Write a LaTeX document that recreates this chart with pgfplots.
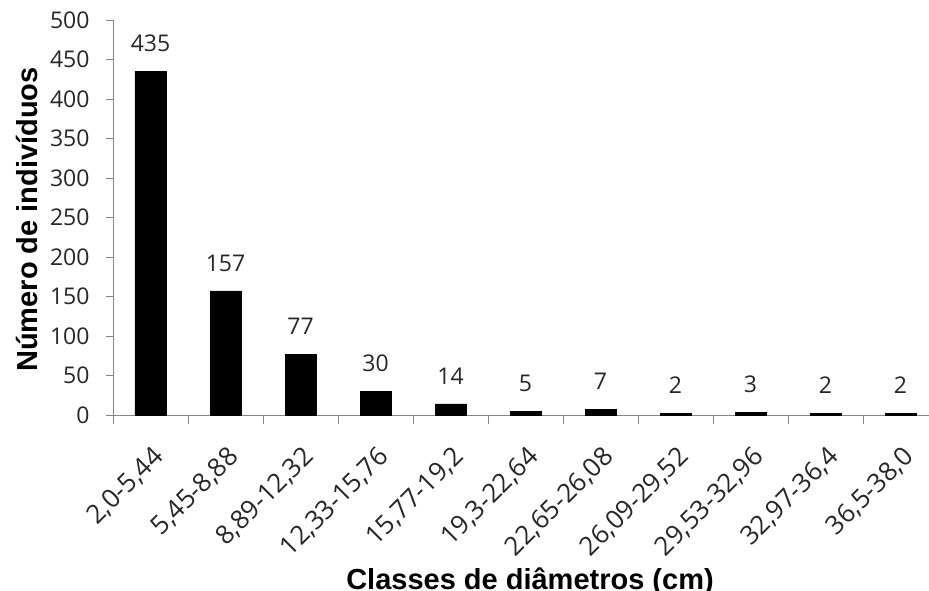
\documentclass[border=0pt]{standalone}
\usepackage{fontspec}
\usepackage{pgfplots}
\pgfplotsset{compat=1.18}
\setmainfont{Open Sans}
\newfontfamily\labelfont{Liberation Sans}
\definecolor{axgray}{RGB}{134,134,134}

\begin{document}
\begin{tikzpicture}
\path[use as bounding box] (-113pt,-175pt) rectangle (816pt,415pt);
\begin{axis}[
  name=ax,
  at={(0,0)}, anchor=south west,
  scale only axis,
  width=816pt, height=395pt,
  ybar, bar width=31pt, bar shift=0pt,
  xmin=-0.5, xmax=10.38,
  ymin=0, ymax=500,
  ytick={0,50,...,500},
  xtick={0,...,10},
  xticklabels={{2,0-5,44},{5,45-8,88},{8,89-12,32},{12,33-15,76},{15,77-19,2},{19,3-22,64},{22,65-26,08},{26,09-29,52},{29,53-32,96},{32,97-36,4},{36,5-38,0}},
  minor xtick={-0.5,0.5,...,9.5},
  axis x line=bottom, axis y line=left,
  axis line style={-, draw=axgray, line width=0.9pt},
  tick align=outside,
  major tick length=7pt, minor tick length=9pt,
  major x tick style={draw=none},
  every tick/.style={axgray, line width=0.9pt},
  minor x tick style={axgray, line width=0.9pt},
  /pgf/number format/assume math mode=true,
  tick label style={font=\fontsize{23}{27}\selectfont, text=black!85},
  yticklabel style={xshift=-13pt},
  xticklabel style={rotate=45, anchor=east, xshift=-12pt, yshift=-28pt, font=\fontsize{26}{30}\selectfont},
  nodes near coords,
  every node near coord/.append style={font=\fontsize{23}{27}\selectfont, text=black!85, yshift=16pt},
  xlabel={Classes de diâmetros (cm)},
  ylabel={Número de indivíduos},
  xlabel style={at={(axis description cs:0.5,0)}, anchor=base, xshift=9pt, yshift=-174pt, font=\labelfont\bfseries\fontsize{29}{33}\selectfont},
  ylabel style={at={(axis description cs:0,0.5)}, anchor=center, yshift=86pt, xshift=-2pt, font=\labelfont\bfseries\fontsize{29}{33}\selectfont},
]
\addplot[fill=black, draw=black] coordinates {
  (0,435) (1,157) (2,77) (3,30) (4,14) (5,5) (6,7) (7,2) (8,3) (9,2) (10,2)
};
\end{axis}
\end{tikzpicture}
\end{document}
